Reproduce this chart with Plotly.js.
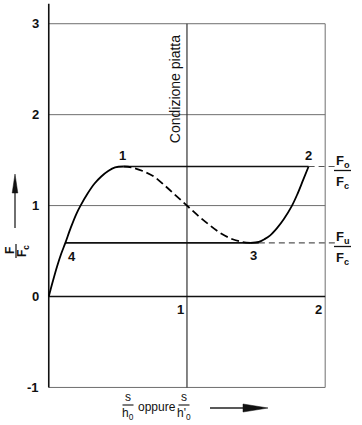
<!DOCTYPE html>
<html><head><meta charset="utf-8">
<script src="https://cdn.plot.ly/plotly-3.0.1.min.js"></script>
<style>html,body{margin:0;padding:0;background:#fff}</style>
</head><body><div id="chart" style="width:362px;height:425px"></div>
<script>
// ---------- data ----------
const riseX = [0, 0.03, 0.06, 0.09, 0.12, 0.16, 0.2, 0.23, 0.28, 0.33, 0.38, 0.43, 0.48, 0.54];
const riseY = [0, 0.17, 0.33, 0.47, 0.59, 0.76, 0.91, 1.0, 1.13, 1.24, 1.32, 1.38, 1.42, 1.43];
const dropX = [0.54, 0.6, 0.68, 0.76, 0.84, 0.92, 1.0, 1.08, 1.16, 1.25, 1.33, 1.4, 1.46];
const dropY = [1.43, 1.42, 1.38, 1.32, 1.22, 1.11, 1.0, 0.89, 0.79, 0.69, 0.63, 0.6, 0.59];
const climbX = [1.46, 1.52, 1.56, 1.6, 1.65, 1.7, 1.76, 1.8, 1.84, 1.88];
const climbY = [0.59, 0.6, 0.63, 0.67, 0.75, 0.85, 1.0, 1.13, 1.28, 1.43];
const foLevel = 1.43, fuLevel = 0.59;
const foSolidX = [0.54, 1.88], foDashX = [1.88, 2.08];
const fuSolidX = [0.12, 1.52], fuDashX = [1.52, 2.08];
const yTickVals = [-1, 0, 1, 2, 3];
const yTickText = ['-1', '0', '1', '2', '3'];
const xTickVals = [1, 2];
const xTickText = ['1', '2'];
const gridYLight = [-1, 1, 2, 3];
const xFrame = [0, 2];
const yFrame = [-1, 3];
const yAxisTop = 3.22;
const pointLabels = ['1', '2', '3', '4'];
const pointX = [0.53, 1.88, 1.48, 0.12];
const pointY = [1.43, 1.43, 0.59, 0.59];

// ---------- geometry helpers ----------
const W = 362, H = 425, M = {l: 46, r: 23, t: 1, b: 33};
const PW = W - M.l - M.r, PH = H - M.t - M.b;
const px = x => (x - M.l) / PW;
const py = y => (H - M.b - y) / PH;
const FONT = 'Liberation Sans, Arial, sans-serif';

function hLines(ys, x0, x1) {
  const X = [], Y = [];
  ys.forEach(y => { X.push(x0, x1, null); Y.push(y, y, null); });
  return {X, Y};
}
const light = hLines(gridYLight, xFrame[0], xFrame[1]);
light.X.push(xFrame[1], xFrame[1], null); light.Y.push(yFrame[0], yFrame[1], null);

const traces = [
  {x: light.X, y: light.Y, mode: 'lines', line: {color: '#6e6e6e', width: 1}, hoverinfo: 'skip'},
  {x: [1, 1], y: yFrame, mode: 'lines', line: {color: '#333', width: 1.2}, hoverinfo: 'skip'},
  {x: [xFrame[0], xFrame[1], null, 0, 0], y: [0, 0, null, yFrame[0], yAxisTop], mode: 'lines',
   line: {color: '#111', width: 1.6}, hoverinfo: 'skip'},
  {x: foSolidX, y: [foLevel, foLevel], mode: 'lines', line: {color: '#111', width: 1.6}},
  {x: foDashX, y: [foLevel, foLevel], mode: 'lines', line: {color: '#555', width: 1.2, dash: '6px,4px'}},
  {x: fuSolidX, y: [fuLevel, fuLevel], mode: 'lines', line: {color: '#111', width: 1.6}},
  {x: fuDashX, y: [fuLevel, fuLevel], mode: 'lines', line: {color: '#555', width: 1.2, dash: '6px,4px'}},
  {x: riseX, y: riseY, mode: 'lines', line: {color: '#000', width: 1.8, shape: 'spline'}},
  {x: dropX, y: dropY, mode: 'lines', line: {color: '#000', width: 1.8, shape: 'spline', dash: '8px,4px'}},
  {x: climbX, y: climbY, mode: 'lines', line: {color: '#000', width: 1.8, shape: 'spline'}}
];

const ann = [];
const numFont = {family: FONT, size: 13, color: '#111', weight: 'bold'};
yTickVals.forEach((v, i) => ann.push({x: 0, y: v, xref: 'x', yref: 'y', text: yTickText[i], showarrow: false,
  xanchor: 'right', yanchor: 'middle', xshift: -8, font: numFont}));
xTickVals.forEach((v, i) => ann.push({x: v, y: 0, xref: 'x', yref: 'y', text: xTickText[i], showarrow: false,
  xanchor: 'right', yanchor: 'top', xshift: -1, yshift: -3, font: numFont}));
const lblShift = [{a: 'bottom', xs: 0, ys: 1}, {a: 'bottom', xs: 0, ys: 1}, {a: 'top', xs: 0, ys: -3}, {a: 'top', xs: 7, ys: -4}];
pointLabels.forEach((t, i) => ann.push({x: pointX[i], y: pointY[i], xref: 'x', yref: 'y', text: t, showarrow: false,
  xanchor: 'center', yanchor: lblShift[i].a, xshift: lblShift[i].xs, yshift: lblShift[i].ys, font: numFont}));
ann.push({x: 1, y: 2.28, xref: 'x', yref: 'y', text: 'Condizione piatta', textangle: -90, showarrow: false,
  xanchor: 'center', yanchor: 'middle', xshift: -12, font: {family: FONT, size: 14, color: '#111'}});

const shapes = [];
const fracFont = {family: FONT, size: 13, color: '#111', weight: 'bold'};
function rightFrac(level, sub, barY) {
  const cx = px(342.5);
  ann.push({x: cx, y: py(barY), xref: 'paper', yref: 'paper', text: 'F<sub>' + sub + '</sub>', showarrow: false,
    xanchor: 'center', yanchor: 'bottom', yshift: -1, font: fracFont});
  ann.push({x: cx, y: py(barY), xref: 'paper', yref: 'paper', text: 'F<sub>c</sub>', showarrow: false,
    xanchor: 'center', yanchor: 'top', yshift: -1, font: fracFont});
  shapes.push({type: 'line', xref: 'paper', yref: 'paper', x0: px(334), x1: px(351), y0: py(barY), y1: py(barY),
    line: {color: '#111', width: 1.3}});
}
rightFrac(foLevel, 'o', 170.5);
rightFrac(fuLevel, 'u', 246.5);

// y axis title: rotated F/Fc with arrow
const smallFont = {family: FONT, size: 12, color: '#111', weight: 'bold'};
ann.push({x: px(10), y: py(251), xref: 'paper', yref: 'paper', text: 'F', textangle: -90, showarrow: false,
  xanchor: 'center', yanchor: 'middle', font: smallFont});
ann.push({x: px(23), y: py(251), xref: 'paper', yref: 'paper', text: 'F<sub>c</sub>', textangle: -90, showarrow: false,
  xanchor: 'center', yanchor: 'middle', font: smallFont});
shapes.push({type: 'line', xref: 'paper', yref: 'paper', x0: px(16), x1: px(16), y0: py(244), y1: py(258),
  line: {color: '#111', width: 1.2}});
shapes.push({type: 'line', xref: 'paper', yref: 'paper', x0: px(15), x1: px(15), y0: py(228), y1: py(190),
  line: {color: '#222', width: 1.3}});
shapes.push({type: 'path', xref: 'paper', yref: 'paper',
  path: `M${px(12.2)},${py(193)} L${px(17.8)},${py(193)} L${px(15)},${py(174)} Z`,
  fillcolor: '#111', line: {color: '#111', width: 0.5}});

// x axis title
const xtFont = {family: FONT, size: 12, color: '#111'};
function bottomFrac(cx, den) {
  ann.push({x: px(cx), y: py(405), xref: 'paper', yref: 'paper', text: 's', showarrow: false,
    xanchor: 'center', yanchor: 'bottom', yshift: -1, font: xtFont});
  ann.push({x: px(cx), y: py(405), xref: 'paper', yref: 'paper', text: den, showarrow: false,
    xanchor: 'center', yanchor: 'top', yshift: 1, font: xtFont});
  shapes.push({type: 'line', xref: 'paper', yref: 'paper', x0: px(cx - 5.5), x1: px(cx + 5.5), y0: py(405), y1: py(405),
    line: {color: '#111', width: 1.1}});
}
bottomFrac(128, 'h<sub>0</sub>');
bottomFrac(184, "h'<sub>0</sub>");
ann.push({x: px(156.5), y: py(407), xref: 'paper', yref: 'paper', text: 'oppure', showarrow: false,
  xanchor: 'center', yanchor: 'middle', font: xtFont});
shapes.push({type: 'line', xref: 'paper', yref: 'paper', x0: px(210), x1: px(246), y0: py(408), y1: py(408),
  line: {color: '#222', width: 1.3}});
shapes.push({type: 'path', xref: 'paper', yref: 'paper',
  path: `M${px(243)},${py(404)} L${px(243)},${py(412)} L${px(268)},${py(408)} Z`,
  fillcolor: '#111', line: {color: '#111', width: 0.5}});

const layout = {
  width: W, height: H, margin: M, showlegend: false,
  paper_bgcolor: '#fff', plot_bgcolor: '#fff',
  xaxis: {range: [-0.02, 2.1], visible: false, fixedrange: true},
  yaxis: {range: [-1.05, 3.25], visible: false, fixedrange: true},
  annotations: ann, shapes: shapes
};
Plotly.newPlot('chart', traces, layout, {staticPlot: true, displayModeBar: false});
</script></body></html>
